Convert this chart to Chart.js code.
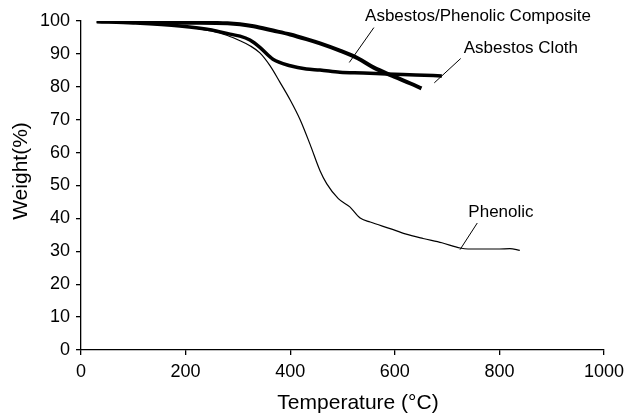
<!DOCTYPE html>
<html>
<head>
<meta charset="utf-8">
<script src="https://cdn.jsdelivr.net/npm/chart.js@4.4.1/dist/chart.umd.min.js"></script>
<style>
  html, body { margin: 0; padding: 0; background: #fff; }
  #wrap { width: 631px; height: 414px; position: relative; }
</style>
</head>
<body>
<div id="wrap"><canvas id="tgaChart"></canvas></div>
<script>
// TGA curves: weight remaining vs temperature
const compositeTemp   = [30, 100, 200, 280, 304, 330, 367, 400, 431, 457, 495, 530, 559, 600, 630, 651];
const compositeWeight = [100, 99.8, 99.5, 99.3, 99.0, 98.4, 97.1, 95.9, 94.5, 93.2, 91.0, 88.6, 85.9, 83.0, 81.0, 79.5];

const clothTemp   = [30, 100, 189, 250, 285, 304, 323, 342, 367, 400, 431, 457, 495, 540, 584, 640, 690];
const clothWeight = [99.8, 99.4, 98.5, 97.3, 96.0, 95.4, 94.2, 92.0, 88.4, 86.4, 85.4, 85.1, 84.4, 84.2, 83.9, 83.6, 83.3];

const phenolicTemp   = [35, 100, 150, 200, 250, 280, 304, 323, 342, 361, 380, 400, 419, 438, 457, 470, 492, 514, 533, 553, 591, 620, 654, 690, 725, 740, 800, 820, 839];
const phenolicWeight = [100, 99.5, 99.1, 98.3, 96.9, 95.6, 94.0, 92.5, 90.3, 86.5, 81.5, 76.0, 70.0, 62.5, 54.5, 50.5, 46.0, 43.5, 40.2, 38.9, 36.9, 35.3, 33.9, 32.6, 31.0, 30.7, 30.7, 30.8, 30.3];

const xTicks = [0, 200, 400, 600, 800, 1000];
const yTicks = [0, 10, 20, 30, 40, 50, 60, 70, 80, 90, 100];

// curve labels with their leader lines, in data units
const curveLabels = ['Asbestos/Phenolic Composite', 'Asbestos Cloth', 'Phenolic'];
const labelAt    = [[759, 101.3], [841, 91.6], [803, 41.8]];
const leaderFrom = [[560, 98.0], [726, 88.6], [757.7, 38.6]];
const leaderTo   = [[513, 87.4], [675.5, 81.2], [724.7, 30.5]];

function toPoints(xs, ys) {
    return xs.map((x, i) => ({ x: x, y: ys[i] }));
}

const FONT = '"Liberation Sans", Arial, sans-serif';

const annotate = {
    id: 'annotate',
    afterDatasetsDraw(chart) {
        const c = chart.ctx;
        const xs = chart.scales.x, ys = chart.scales.y;
        c.save();
        c.strokeStyle = '#000';
        c.lineWidth = 1;
        c.fillStyle = '#000';
        c.font = '17px ' + FONT;
        c.textAlign = 'center';
        c.textBaseline = 'middle';
        curveLabels.forEach((txt, i) => {
            c.beginPath();
            c.moveTo(xs.getPixelForValue(leaderFrom[i][0]), ys.getPixelForValue(leaderFrom[i][1]));
            c.lineTo(xs.getPixelForValue(leaderTo[i][0]), ys.getPixelForValue(leaderTo[i][1]));
            c.stroke();
            c.fillText(txt, xs.getPixelForValue(labelAt[i][0]), ys.getPixelForValue(labelAt[i][1]));
        });

        // axis titles
        const area = chart.chartArea;
        c.font = '21px ' + FONT;
        c.textBaseline = 'alphabetic';
        c.fillText('Temperature (\u00B0C)', area.left + 277, 409);
        c.translate(27, area.top + 150);
        c.rotate(-Math.PI / 2);
        c.fillText('Weight(%)', 0, 0);
        c.restore();
    }
};

const axisStyle = {
    grid: { display: true, drawOnChartArea: false, drawTicks: true, tickLength: 5, color: '#000', lineWidth: 1.3 },
    border: { display: true, color: '#000', width: 1.3 }
};

new Chart(document.getElementById('tgaChart'), {
    type: 'scatter',
    data: {
        datasets: [
            {
                label: 'Asbestos/Phenolic Composite',
                data: toPoints(compositeTemp, compositeWeight),
                borderColor: '#000',
                borderWidth: 4,
                showLine: true,
                pointRadius: 0,
                cubicInterpolationMode: 'monotone'
            },
            {
                label: 'Asbestos Cloth',
                data: toPoints(clothTemp, clothWeight),
                borderColor: '#000',
                borderWidth: 3.5,
                showLine: true,
                pointRadius: 0,
                cubicInterpolationMode: 'monotone'
            },
            {
                label: 'Phenolic',
                data: toPoints(phenolicTemp, phenolicWeight),
                borderColor: '#000',
                borderWidth: 1.2,
                showLine: true,
                pointRadius: 0,
                cubicInterpolationMode: 'monotone'
            }
        ]
    },
    options: {
        responsive: true,
        maintainAspectRatio: false,
        animation: false,
        layout: { padding: { top: 21, right: 27, left: 0, bottom: 0 } },
        plugins: {
            legend: { display: false },
            tooltip: { enabled: false }
        },
        scales: {
            x: {
                type: 'linear',
                min: 0,
                max: 1000,
                afterBuildTicks: (s) => { s.ticks = xTicks.map(v => ({ value: v })); },
                afterFit: (s) => { s.height = 64; },
                ticks: { color: '#000', font: { family: FONT, size: 18 }, padding: 6, maxRotation: 0, callback: (v) => String(v) },
                ...axisStyle
            },
            y: {
                type: 'linear',
                min: 0,
                max: 100,
                afterBuildTicks: (s) => { s.ticks = yTicks.map(v => ({ value: v })); },
                afterFit: (s) => { s.width = 81; },
                ticks: { color: '#000', font: { family: FONT, size: 18 }, padding: 6, callback: (v) => String(v) },
                ...axisStyle
            }
        }
    },
    plugins: [annotate]
});
</script>
</body>
</html>
